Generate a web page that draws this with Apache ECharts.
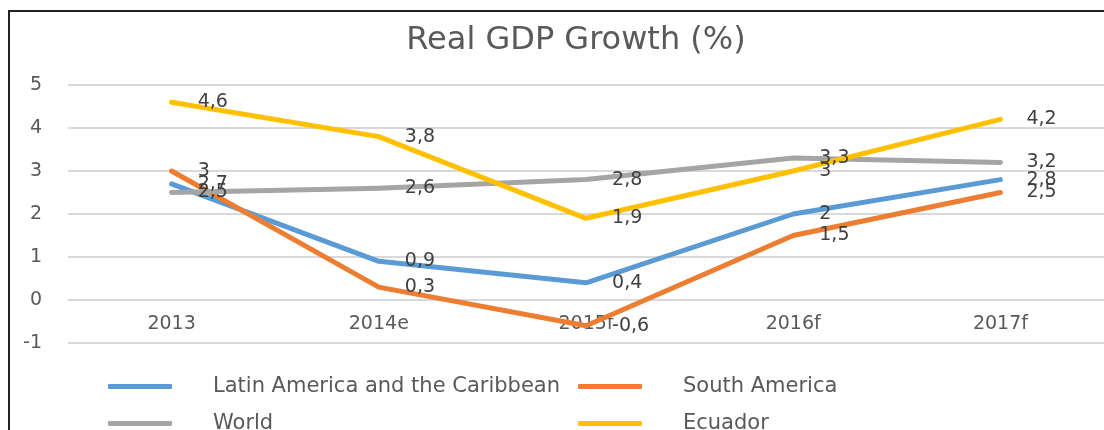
<!DOCTYPE html>
<html lang="en">
<head>
    <meta charset="UTF-8">
    <title>Real GDP Growth (%)</title>
    <style>
        html, body {
            margin: 0;
            padding: 0;
            background: #fff;
        }
        #chart {
            width: 1104px;
            height: 430px;
        }
    </style>
</head>
<body>
<div id="chart"></div>
<script src="https://cdn.jsdelivr.net/npm/echarts@6/dist/echarts.min.js"></script>
<script>
    // categories and series values
    const years = ['2013', '2014e', '2015f', '2016f', '2017f'];
    const latinAmerica = [2.7, 0.9, 0.4, 2, 2.8];
    const southAmerica = [3, 0.3, -0.6, 1.5, 2.5];
    const world = [2.5, 2.6, 2.8, 3.3, 3.2];
    const ecuador = [4.6, 3.8, 1.9, 3, 4.2];
    const yTicks = { min: -1, max: 5, interval: 1 };

    const font = '"DejaVu Sans", "Open Sans", sans-serif';
    const textColor = '#595959';

    // comma as decimal separator, like the original
    function fmt(v) {
        return String(v).replace('.', ',');
    }

    function lineSeries(name, data, color) {
        return {
            name: name,
            type: 'line',
            data: data,
            symbol: 'circle',
            symbolSize: 0.1,
            showSymbol: true,
            lineStyle: { color: color, width: 5, cap: 'round', join: 'round' },
            itemStyle: { color: color },
            label: {
                show: true,
                position: 'right',
                distance: 26,
                color: '#404040',
                fontFamily: font,
                fontSize: 19,
                formatter: p => fmt(p.value)
            },
            labelLayout: { hideOverlap: false },
            animation: false
        };
    }

    function legendAt(name, left, top) {
        return {
            data: [name],
            left: left,
            top: top,
            icon: 'roundRect',
            itemWidth: 64,
            itemHeight: 5,
            textStyle: {
                color: textColor,
                fontFamily: font,
                fontSize: 21,
                padding: [0, 0, 0, 36]
            }
        };
    }

    const chart = echarts.init(document.getElementById('chart'));
    chart.setOption({
        backgroundColor: '#fff',
        title: {
            text: 'Real GDP Growth (%)',
            left: 571,
            textAlign: 'center',
            top: 20,
            textStyle: {
                color: textColor,
                fontFamily: font,
                fontSize: 32,
                fontWeight: 'normal'
            }
        },
        graphic: [
            {
                type: 'polyline',
                shape: { points: [[9, 440], [9, 11], [1120, 11]] },
                style: { stroke: '#222', lineWidth: 2, fill: null }
            }
        ],
        legend: [
            legendAt('Latin America and the Caribbean', 103, 371),
            legendAt('South America', 573, 371),
            legendAt('World', 103, 408),
            legendAt('Ecuador', 573, 408)
        ],
        grid: {
            left: 68,
            right: -4,
            top: 85,
            bottom: 87,
            containLabel: false
        },
        xAxis: {
            type: 'category',
            data: years,
            boundaryGap: true,
            // labels sit just under the zero line, as in the original
            offset: -43,
            axisLine: { show: false, onZero: false },
            axisTick: { show: false },
            axisLabel: {
                color: textColor,
                fontFamily: font,
                fontSize: 19,
                margin: 15
            }
        },
        yAxis: {
            type: 'value',
            min: yTicks.min,
            max: yTicks.max,
            interval: yTicks.interval,
            axisLine: { show: false },
            axisTick: { show: false },
            axisLabel: {
                color: textColor,
                fontFamily: font,
                fontSize: 19,
                margin: 26
            },
            splitLine: { lineStyle: { color: '#d9d9d9', width: 2 } }
        },
        series: [
            lineSeries('Latin America and the Caribbean', latinAmerica, '#5B9BD5'),
            lineSeries('South America', southAmerica, '#ED7D31'),
            lineSeries('World', world, '#A5A5A5'),
            lineSeries('Ecuador', ecuador, '#FFC000')
        ]
    });
</script>
</body>
</html>
